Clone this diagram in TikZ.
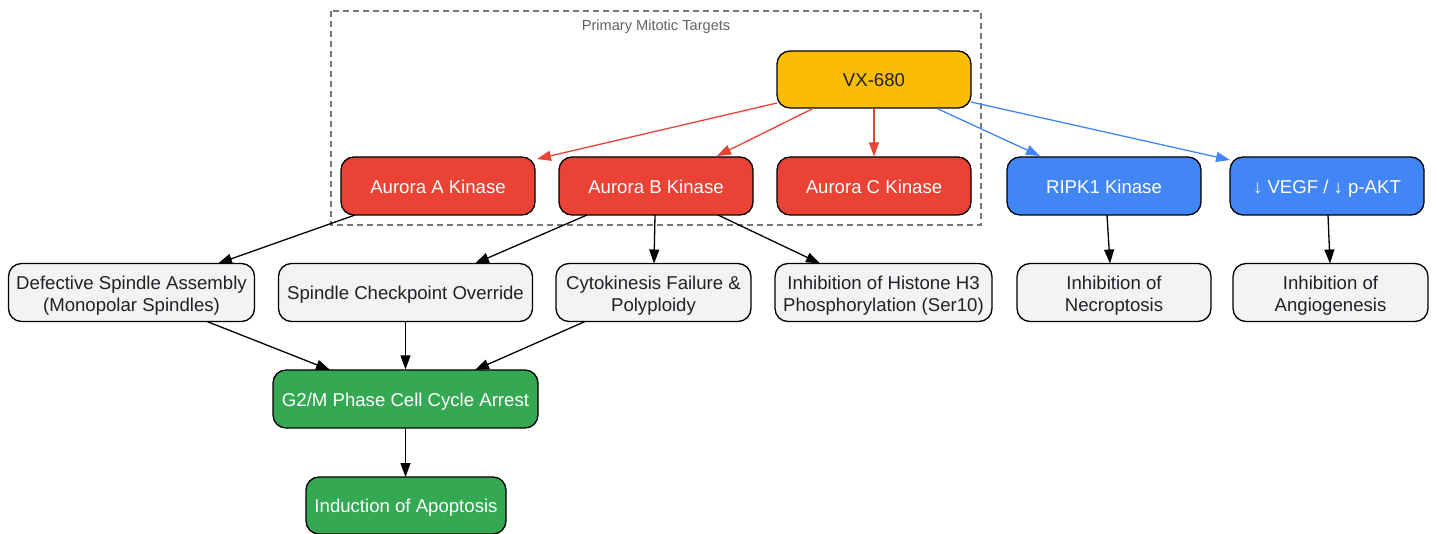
\documentclass[tikz,border=0pt]{standalone}
\usepackage{fontspec}
\setmainfont{Liberation Sans}
\usetikzlibrary{arrows.meta}
\definecolor{vxyellow}{HTML}{FBBC05}
\definecolor{aured}{HTML}{EA4335}
\definecolor{gblue}{HTML}{4285F4}
\definecolor{ggreen}{HTML}{34A853}
\definecolor{lightbg}{HTML}{F1F3F4}
\definecolor{txtdark}{HTML}{202124}
\definecolor{clustergray}{HTML}{777777}
\definecolor{labelgray}{HTML}{5F6368}
\newcommand\fstrut{\rule{0pt}{19.3pt}}
\tikzset{
  box/.style={draw=black, line width=1.3pt, rounded corners=13pt, minimum height=58pt,
    align=center, inner sep=0pt, font=\fontsize{18.6}{21.7}\selectfont},
  oneline/.style={text height=14.2pt, text depth=0pt},
  yelbox/.style={box, fill=vxyellow, text=txtdark},
  redbox/.style={box, fill=aured, text=white},
  bluebox/.style={box, fill=gblue, text=white},
  greenbox/.style={box, fill=ggreen, text=white},
  greybox/.style={box, fill=lightbg, text=txtdark},
  conn/.style={line width=1.3pt, -{Triangle[length=14pt,width=10pt]}},
  redconn/.style={line width=1.3pt, draw=aured, -{Triangle[length=14pt,width=10pt,fill=aured]}},
  blueconn/.style={line width=1.3pt, draw=gblue, -{Triangle[length=14pt,width=10pt,fill=gblue]}},
  cluster/.style={draw=clustergray, line width=1.3pt, dash pattern=on 6pt off 4pt},
}
\begin{document}
\begin{tikzpicture}[x=1pt,y=-1pt]
\useasboundingbox (0,0) rectangle (1437,534);
\draw[cluster] (331,11) rectangle (981,225);
\node[text=labelgray, font=\fontsize{14.6}{17}\selectfont, anchor=base] (clabel) at (656,30.5) {Primary Mitotic Targets};

\node[yelbox, oneline, minimum width=194pt, minimum height=57pt] (vx) at (874,79.5) {VX-680};
\node[redbox, oneline, minimum width=194pt] (a) at (438,186) {Aurora A Kinase};
\node[redbox, oneline, minimum width=194pt] (b) at (656,186) {Aurora B Kinase};
\node[redbox, oneline, minimum width=194pt] (c) at (874,186) {Aurora C Kinase};
\node[bluebox, oneline, minimum width=194pt] (ripk) at (1104,186) {RIPK1 Kinase};
\node[bluebox, oneline, minimum width=194pt] (vegf) at (1327,186) {↓ VEGF / ↓ p-AKT};

\node[greybox, minimum width=246pt] (def) at (131.5,292.5) {\fstrut Defective Spindle Assembly\\(Monopolar Spindles)};
\node[greybox, oneline, minimum width=254pt] (chk) at (405.5,292.5) {Spindle Checkpoint Override};
\node[greybox, minimum width=195pt] (cyto) at (653.5,292.5) {\fstrut Cytokinesis Failure \&\\Polyploidy};
\node[greybox, minimum width=217pt] (his) at (883.5,292.5) {\fstrut Inhibition of Histone H3\\Phosphorylation (Ser10)};
\node[greybox, minimum width=194pt] (nec) at (1114,292.5) {\fstrut Inhibition of\\Necroptosis};
\node[greybox, minimum width=195pt] (ang) at (1330.5,292.5) {\fstrut Inhibition of\\Angiogenesis};

\node[greenbox, oneline, minimum width=265pt] (g2m) at (405.5,399) {G2/M Phase Cell Cycle Arrest};
\node[greenbox, oneline, minimum width=200pt, minimum height=57pt] (apo) at (406,505.5) {Induction of Apoptosis};

\draw[redconn] ([shift={(-97,23.5)}]vx.center) -- ([shift={(99,-27)}]a.center);
\draw[redconn] ([shift={(-61,29)}]vx.center) -- ([shift={(61,-30)}]b.center);
\draw[redconn] (vx.south) -- (c.north);
\draw[blueconn] ([shift={(63,29)}]vx.center) -- ([shift={(-64,-30)}]ripk.center);
\draw[blueconn] ([shift={(97,22.5)}]vx.center) -- ([shift={(-97,-26)}]vegf.center);

\draw[conn] ([shift={(-83,29)}]a.center) -- ([shift={(86.5,-29)}]def.center);
\draw[conn] ([shift={(-69,29)}]b.center) -- ([shift={(69.5,-29)}]chk.center);
\draw[conn] ([shift={(-1,29)}]b.center) -- ([shift={(0.5,-29)}]cyto.center);
\draw[conn] ([shift={(62,29)}]b.center) -- ([shift={(-63.5,-29)}]his.center);
\draw[conn] ([shift={(3,29)}]ripk.center) -- ([shift={(-4,-29)}]nec.center);
\draw[conn] ([shift={(1,29)}]vegf.center) -- ([shift={(-0.5,-29)}]ang.center);

\draw[conn] ([shift={(75.5,29)}]def.center) -- ([shift={(-75.5,-29)}]g2m.center);
\draw[conn] (chk.south) -- (g2m.north);
\draw[conn] ([shift={(-68.5,29)}]cyto.center) -- ([shift={(69.5,-29)}]g2m.center);
\draw[conn] (g2m.south) -- ([shift={(-0.5,-28.5)}]apo.center);
\end{tikzpicture}
\end{document}
